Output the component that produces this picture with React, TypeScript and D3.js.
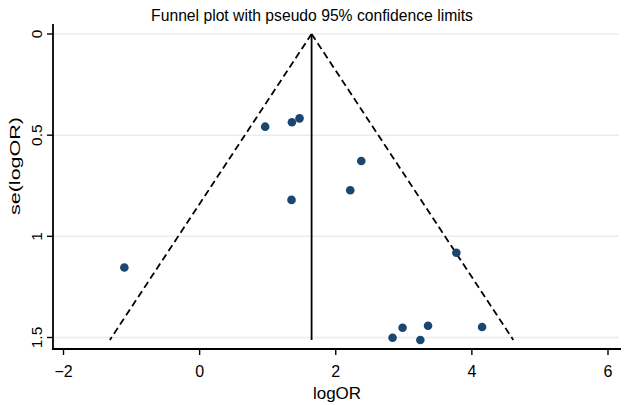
import React, { useRef, useEffect } from "react";
import { select, scaleLinear, max, line } from "d3";

// study estimates
const logOR = [0.963, 1.356, 1.468, 1.35, -1.106, 3.772, 2.982, 2.835, 3.356, 3.243, 4.15, 2.375, 2.213];
const seLogOR = [0.458, 0.436, 0.417, 0.82, 1.154, 1.081, 1.452, 1.501, 1.442, 1.512, 1.448, 0.628, 0.772];
// pooled (fixed effect) estimate, where the funnel is centred
const pooled = 1.645;
const xTicks = [-2, 0, 2, 4, 6];
const yTicks = [0, 0.5, 1, 1.5];

const W = 629;
const H = 405;
const FONT = "'Liberation Sans', Arial, Helvetica, sans-serif";

function FunnelPlot() {
  const svgRef = useRef<SVGSVGElement>(null);

  useEffect(() => {
    const svg = select(svgRef.current);
    svg.selectAll("*").remove();

    const x = scaleLinear().domain([-2, 6]).range([63.5, 608]);
    const y = scaleLinear().domain([0, 1.5]).range([34, 337.5]);
    const left = 53;
    const right = 621;
    const top = 24;
    const bottom = 349;

    // gridlines
    svg
      .selectAll(".grid")
      .data(yTicks)
      .join("line")
      .attr("class", "grid")
      .attr("x1", left)
      .attr("x2", right - 2)
      .attr("y1", (d) => y(d))
      .attr("y2", (d) => y(d))
      .attr("stroke", "#e7eef0")
      .attr("stroke-width", 1.5);

    // pseudo 95% limits
    const seMax = max(seLogOR) as number;
    const limits = [
      [
        [pooled, 0],
        [pooled - 1.96 * seMax, seMax],
      ],
      [
        [pooled, 0],
        [pooled + 1.96 * seMax, seMax],
      ],
    ];
    const lineGen = line<number[]>()
      .x((d) => x(d[0]))
      .y((d) => y(d[1]));
    svg
      .selectAll(".limit")
      .data(limits)
      .join("path")
      .attr("class", "limit")
      .attr("d", (d) => lineGen(d))
      .attr("fill", "none")
      .attr("stroke", "#000")
      .attr("stroke-width", 1.8)
      .attr("stroke-dasharray", "7,4");

    // pooled estimate line
    svg
      .append("line")
      .attr("x1", x(pooled))
      .attr("x2", x(pooled))
      .attr("y1", y(0))
      .attr("y2", y(seMax))
      .attr("stroke", "#000")
      .attr("stroke-width", 1.8);

    // studies
    svg
      .selectAll(".dot")
      .data(logOR)
      .join("circle")
      .attr("class", "dot")
      .attr("cx", (d) => x(d))
      .attr("cy", (d, i) => y(seLogOR[i]))
      .attr("r", 4.3)
      .attr("fill", "#1a476f");

    // axes
    svg
      .append("line")
      .attr("x1", left)
      .attr("x2", left)
      .attr("y1", top)
      .attr("y2", bottom + 0.9)
      .attr("stroke", "#000")
      .attr("stroke-width", 1.8);
    svg
      .append("line")
      .attr("x1", left - 0.9)
      .attr("x2", right)
      .attr("y1", bottom)
      .attr("y2", bottom)
      .attr("stroke", "#000")
      .attr("stroke-width", 1.8);

    // x ticks
    svg
      .selectAll(".xtick")
      .data(xTicks)
      .join("line")
      .attr("class", "xtick")
      .attr("x1", (d) => x(d))
      .attr("x2", (d) => x(d))
      .attr("y1", bottom)
      .attr("y2", bottom + 6)
      .attr("stroke", "#000")
      .attr("stroke-width", 1.4);
    svg
      .selectAll(".xlabel")
      .data(xTicks)
      .join("text")
      .attr("class", "xlabel")
      .attr("x", (d) => x(d))
      .attr("y", 377)
      .attr("text-anchor", "middle")
      .attr("font-family", FONT)
      .attr("font-size", 16)
      .attr("fill", "#000")
      .text((d) => (d < 0 ? "\u2212" + Math.abs(d) : String(d)));

    // y ticks
    svg
      .selectAll(".ytick")
      .data(yTicks)
      .join("line")
      .attr("class", "ytick")
      .attr("x1", left - 6)
      .attr("x2", left)
      .attr("y1", (d) => y(d))
      .attr("y2", (d) => y(d))
      .attr("stroke", "#000")
      .attr("stroke-width", 1.4);
    svg
      .selectAll(".ylabel")
      .data(yTicks)
      .join("text")
      .attr("class", "ylabel")
      .attr("transform", (d) => `translate(42,${y(d)}) rotate(-90)`)
      .attr("text-anchor", "middle")
      .attr("font-family", FONT)
      .attr("font-size", 15.5)
      .attr("fill", "#000")
      .text((d) => String(d));

    // titles
    svg
      .append("text")
      .attr("x", 312)
      .attr("y", 20.5)
      .attr("text-anchor", "middle")
      .attr("font-family", FONT)
      .attr("font-size", 15.7)
      .attr("fill", "#000")
      .text("Funnel plot with pseudo 95% confidence limits");
    svg
      .append("text")
      .attr("x", 337)
      .attr("y", 399)
      .attr("text-anchor", "middle")
      .attr("font-family", FONT)
      .attr("font-size", 17)
      .attr("fill", "#000")
      .text("logOR");
    svg
      .append("text")
      .attr("transform", "translate(19.5,166) rotate(-90)")
      .attr("text-anchor", "middle")
      .attr("font-family", FONT)
      .attr("font-size", 15.5)
      .attr("textLength", 98)
      .attr("lengthAdjust", "spacingAndGlyphs")
      .attr("fill", "#000")
      .text("se(logOR)");
  }, []);

  return (
    <svg
      ref={svgRef}
      width={W}
      height={H}
      style={{ position: "absolute", left: 0, top: 0, background: "#fff" }}
    />
  );
}

export default function App() {
  return <FunnelPlot />;
}
